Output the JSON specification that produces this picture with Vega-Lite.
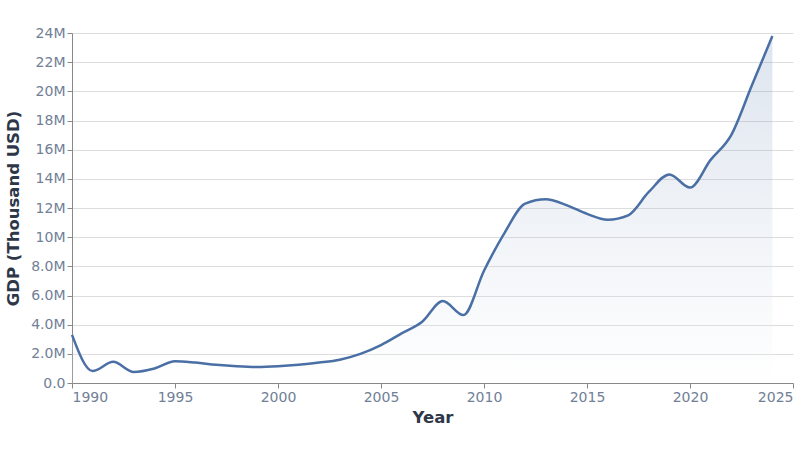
{
  "$schema": "https://vega.github.io/schema/vega-lite/v6.json",
  "autosize": {"type": "none"},
  "padding": {"left": 72, "top": 33, "right": 7, "bottom": 67},
  "width": 721,
  "height": 350,
  "background": "white",
  "data": {
    "values": [
      {"Year": 1990, "GDP": 3300000},
      {"Year": 1991, "GDP": 820000},
      {"Year": 1992, "GDP": 1450000},
      {"Year": 1993, "GDP": 760000},
      {"Year": 1994, "GDP": 1000000},
      {"Year": 1995, "GDP": 1500000},
      {"Year": 1996, "GDP": 1400000},
      {"Year": 1997, "GDP": 1250000},
      {"Year": 1998, "GDP": 1150000},
      {"Year": 1999, "GDP": 1100000},
      {"Year": 2000, "GDP": 1150000},
      {"Year": 2001, "GDP": 1250000},
      {"Year": 2002, "GDP": 1400000},
      {"Year": 2003, "GDP": 1600000},
      {"Year": 2004, "GDP": 2000000},
      {"Year": 2005, "GDP": 2600000},
      {"Year": 2006, "GDP": 3400000},
      {"Year": 2007, "GDP": 4200000},
      {"Year": 2008, "GDP": 5620000},
      {"Year": 2009, "GDP": 4660000},
      {"Year": 2010, "GDP": 7700000},
      {"Year": 2011, "GDP": 10300000},
      {"Year": 2012, "GDP": 12300000},
      {"Year": 2013, "GDP": 12600000},
      {"Year": 2014, "GDP": 12200000},
      {"Year": 2015, "GDP": 11600000},
      {"Year": 2016, "GDP": 11200000},
      {"Year": 2017, "GDP": 11500000},
      {"Year": 2018, "GDP": 13100000},
      {"Year": 2019, "GDP": 14300000},
      {"Year": 2020, "GDP": 13400000},
      {"Year": 2021, "GDP": 15300000},
      {"Year": 2022, "GDP": 17000000},
      {"Year": 2023, "GDP": 20400000},
      {"Year": 2024, "GDP": 23800000}
    ]
  },
  "encoding": {
    "x": {
      "field": "Year",
      "type": "quantitative",
      "title": "Year",
      "scale": {"domain": [1990, 2025], "nice": false, "zero": false},
      "axis": {
        "values": [1990, 1995, 2000, 2005, 2010, 2015, 2020, 2025],
        "format": "d",
        "grid": false,
        "titlePadding": 5
      }
    },
    "y": {
      "field": "GDP",
      "type": "quantitative",
      "title": "GDP (Thousand USD)",
      "scale": {"domain": [0, 24000000], "nice": false},
      "axis": {
        "values": [0, 2000000, 4000000, 6000000, 8000000, 10000000, 12000000, 14000000, 16000000, 18000000, 20000000, 22000000, 24000000],
        "format": ".2s",
        "titlePadding": 9
      }
    }
  },
  "layer": [
    {
      "mark": {
        "type": "area",
        "interpolate": "monotone",
        "color": {
          "gradient": "linear",
          "x1": 1, "y1": 1, "x2": 1, "y2": 0,
          "stops": [
            {"offset": 0, "color": "#ffffff"},
            {"offset": 1, "color": "#4a6fa5"}
          ]
        },
        "fillOpacity": 0.18
      }
    },
    {
      "mark": {
        "type": "line",
        "interpolate": "monotone",
        "color": "#4a6fa5",
        "strokeWidth": 2.5
      }
    }
  ],
  "config": {
    "font": "DejaVu Sans",
    "view": {"stroke": null},
    "axis": {
      "labelFont": "DejaVu Sans",
      "labelFontSize": 14,
      "labelColor": "#718096",
      "titleFont": "DejaVu Sans",
      "titleFontSize": 16.5,
      "titleFontWeight": "bold",
      "titleColor": "#2d3748",
      "domainColor": "#888888",
      "tickColor": "#888888",
      "gridColor": "#dddddd"
    }
  }
}
